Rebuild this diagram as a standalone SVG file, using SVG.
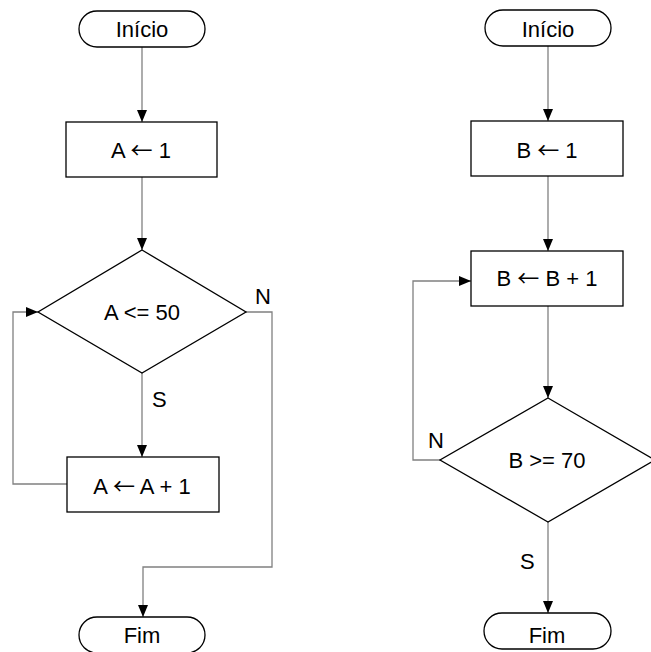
<svg xmlns="http://www.w3.org/2000/svg" width="651" height="652" viewBox="0 0 651 652">
<style>
.shape{fill:#fff;stroke:#000;stroke-width:1.3}
.conn{fill:none;stroke:#808080;stroke-width:1.3}
text{font-family:"Liberation Sans",Arial,sans-serif;font-size:22px;fill:#000}
.c{text-anchor:middle}
.ar{font-family:"Noto Sans CJK SC",sans-serif;font-size:22px}
</style>
<defs>
<marker id="arr" viewBox="0 0 12 10" refX="12" refY="5" markerWidth="12" markerHeight="10" markerUnits="userSpaceOnUse" orient="auto">
<path d="M0,0 L12,5 L0,10 Z" fill="#000"/>
</marker>
</defs>
<g id="connectors">
<path class="conn" d="M142,47 V122" marker-end="url(#arr)"/>
<path class="conn" d="M142,177 V250" marker-end="url(#arr)"/>
<path class="conn" d="M142,373 V457" marker-end="url(#arr)"/>
<path class="conn" d="M67,484 H13 V312 H38" marker-end="url(#arr)"/>
<path class="conn" d="M246,312 H272 V567 H143 V617" marker-end="url(#arr)"/>
<path class="conn" d="M548,46 V121" marker-end="url(#arr)"/>
<path class="conn" d="M548,176 V251" marker-end="url(#arr)"/>
<path class="conn" d="M548,306 V398" marker-end="url(#arr)"/>
<path class="conn" d="M440,460 H413 V281 H471" marker-end="url(#arr)"/>
<path class="conn" d="M548,522 V613" marker-end="url(#arr)"/>
</g>
<g id="inicio1"><rect class="shape" x="79" y="11" width="126" height="36" rx="18"/><text class="c" x="142" y="37">Início</text></g>
<g id="a1"><rect class="shape" x="66" y="122" width="151" height="55"/><text class="c" x="141" y="158">A <tspan class="ar">←</tspan> 1</text></g>
<g id="cond1"><path class="shape" d="M142,250 L246,312 L142,373 L38,312 Z"/><text class="c" x="142" y="320">A &lt;= 50</text></g>
<g id="a2"><rect class="shape" x="67" y="457" width="152" height="55"/><text class="c" x="142" y="494">A <tspan class="ar">←</tspan> A + 1</text></g>
<g id="fim1"><rect class="shape" x="79" y="617" width="126" height="36" rx="18"/><text class="c" x="142" y="643">Fim</text></g>
<text x="255" y="304">N</text>
<text x="152" y="407">S</text>
<g id="inicio2"><rect class="shape" x="485" y="10" width="126" height="36" rx="18"/><text class="c" x="548" y="37">Início</text></g>
<g id="b1"><rect class="shape" x="471" y="121" width="152" height="55"/><text class="c" x="547" y="158">B <tspan class="ar">←</tspan> 1</text></g>
<g id="b2"><rect class="shape" x="471" y="251" width="152" height="55"/><text class="c" x="547" y="286">B <tspan class="ar">←</tspan> B + 1</text></g>
<g id="cond2"><path class="shape" d="M548,398 L655,460 L548,522 L440,460 Z"/><text class="c" x="547" y="468">B &gt;= 70</text></g>
<g id="fim2"><rect class="shape" x="484" y="613" width="127" height="36" rx="18"/><text class="c" x="547" y="643">Fim</text></g>
<text x="428" y="448">N</text>
<text x="520" y="569">S</text>
</svg>
